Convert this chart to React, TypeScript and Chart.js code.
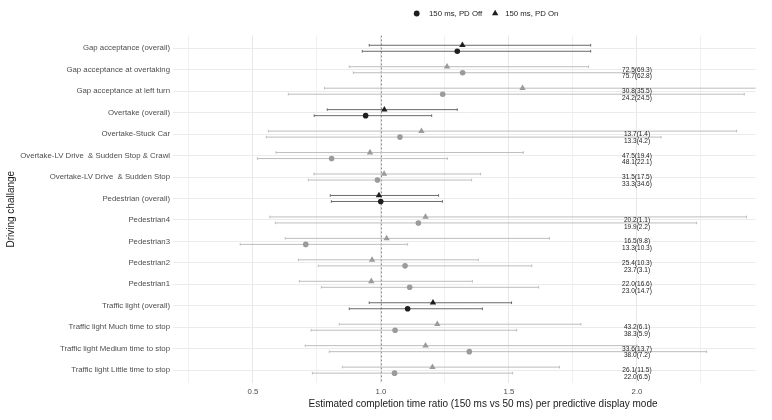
import React, { useEffect, useRef } from 'react';
import { Chart, registerables } from 'chart.js';
Chart.register(...registerables);

const categories = [
  'Gap acceptance (overall)',
  'Gap acceptance at overtaking',
  'Gap acceptance at left turn',
  'Overtake (overall)',
  'Overtake-Stuck Car',
  'Overtake-LV Drive  & Sudden Stop & Crawl',
  'Overtake-LV Drive  & Sudden Stop',
  'Pedestrian (overall)',
  'Pedestrian4',
  'Pedestrian3',
  'Pedestrian2',
  'Pedestrian1',
  'Traffic light (overall)',
  'Traffic light Much time to stop',
  'Traffic light Medium time to stop',
  'Traffic light Little time to stop',
];

// 150 ms, PD Off (circles)
const pdOffEst = [1.298, 1.319, 1.241, 0.940, 1.074, 0.807, 0.986, 0.999, 1.146, 0.706, 1.094, 1.112, 1.104, 1.055, 1.345, 1.053];
const pdOffLo = [0.927, 0.892, 0.638, 0.739, 0.552, 0.517, 0.716, 0.806, 0.587, 0.450, 0.755, 0.767, 0.876, 0.727, 0.798, 0.732];
const pdOffHi = [1.819, 1.99, 2.419, 1.198, 2.094, 1.259, 1.354, 1.240, 2.233, 1.104, 1.589, 1.616, 1.396, 1.530, 2.272, 1.514];

// 150 ms, PD On (triangles)
const pdOnEst = [1.318, 1.258, 1.553, 1.013, 1.158, 0.957, 1.012, 0.992, 1.174, 1.022, 0.965, 0.962, 1.203, 1.220, 1.174, 1.201];
const pdOnLo = [0.954, 0.876, 0.779, 0.790, 0.560, 0.590, 0.738, 0.802, 0.566, 0.626, 0.677, 0.681, 0.954, 0.837, 0.704, 0.849];
const pdOnHi = [1.819, 1.811, 2.55, 1.298, 2.389, 1.556, 1.389, 1.225, 2.428, 1.658, 1.380, 1.357, 1.510, 1.781, 2.00, 1.697];

// text annotations (first line / second line)
const annoTop = ['', '72.5(69.3)', '30.8(35.5)', '', '13.7(1.4)', '47.5(19.4)', '31.5(17.5)', '', '20.2(1.1)', '16.5(9.8)', '25.4(10.3)', '22.0(16.6)', '', '43.2(6.1)', '33.6(13.7)', '26.1(11.5)'];
const annoBottom = ['', '75.7(62.8)', '24.2(24.5)', '', '13.3(4.2)', '48.1(22.1)', '33.3(34.6)', '', '19.9(2.2)', '13.3(10.3)', '23.7(3.1)', '23.0(14.7)', '', '38.3(5.9)', '38.0(7.2)', '22.0(6.5)'];
const annoX = 2.0;

const xTickValues = [0.25, 0.5, 0.75, 1.0, 1.25, 1.5, 1.75, 2.0, 2.25];
const xTickLabels = ['', '0.5', '', '1.0', '', '1.5', '', '2.0', ''];
const xMin = 0.1875;
const xMax = 2.4637;
const referenceValue = 1.0;

const seriesNames = ['150 ms, PD Off', '150 ms, PD On'];
const xTitle = 'Estimated completion time ratio (150 ms vs 50 ms) per predictive display mode';
const yTitle = 'Driving challange';

const FONT = "'Liberation Sans', Arial, sans-serif";
const isOverall = categories.map((c) => c.includes('(overall)'));
const DODGE = 0.14;

const POINT_DARK = '#1e1e1e';
const POINT_LIGHT = '#9b9b9b';
const BAR_DARK = '#6a6a6a';
const BAR_LIGHT = '#bdbdbd';

const forestPlugin = {
  id: 'forestExtras',
  beforeDatasetsDraw(chart: any) {
    const { ctx, chartArea, scales } = chart;
    const xs = scales.x;
    const ys = scales.y;
    ctx.save();
    ctx.beginPath();
    ctx.rect(chartArea.left, chartArea.top, chartArea.right - chartArea.left, chartArea.bottom - chartArea.top);
    ctx.clip();
    // reference line
    const rx = Math.round(xs.getPixelForValue(referenceValue)) + 0.5;
    ctx.strokeStyle = '#8c8c8c';
    ctx.lineWidth = 1;
    ctx.setLineDash([2, 2]);
    ctx.beginPath();
    ctx.moveTo(rx, chartArea.top);
    ctx.lineTo(rx, chartArea.bottom);
    ctx.stroke();
    ctx.setLineDash([]);
    const drawBar = (lo: number, hi: number, yv: number, color: string) => {
      const x1 = xs.getPixelForValue(lo);
      const x2 = xs.getPixelForValue(hi);
      const yp = ys.getPixelForValue(yv);
      ctx.strokeStyle = color;
      ctx.lineWidth = 1;
      ctx.beginPath();
      ctx.moveTo(x1, yp);
      ctx.lineTo(x2, yp);
      ctx.moveTo(x1, yp - 1.3);
      ctx.lineTo(x1, yp + 1.3);
      ctx.moveTo(x2, yp - 1.3);
      ctx.lineTo(x2, yp + 1.3);
      ctx.stroke();
    };
    categories.forEach((_, i) => {
      const col = isOverall[i] ? BAR_DARK : BAR_LIGHT;
      drawBar(pdOnLo[i], pdOnHi[i], i - DODGE, col);
      drawBar(pdOffLo[i], pdOffHi[i], i + DODGE, col);
    });
    ctx.restore();
  },
  afterDraw(chart: any) {
    const { ctx, chartArea, scales } = chart;
    const xs = scales.x;
    const ys = scales.y;
    ctx.save();
    // annotations
    ctx.fillStyle = '#222222';
    ctx.font = `7.6px ${FONT}`;
    ctx.textAlign = 'center';
    ctx.textBaseline = 'middle';
    const ax = xs.getPixelForValue(annoX);
    categories.forEach((_, i) => {
      const yp = ys.getPixelForValue(i);
      [annoTop[i], annoBottom[i]].forEach((t, k) => {
        if (!t) return;
        ctx.save();
        ctx.translate(ax, yp + k * 6.6);
        ctx.scale(0.86, 1);
        ctx.fillText(t, 0, 0);
        ctx.restore();
      });
    });
    // x title
    ctx.fillStyle = '#1a1a1a';
    ctx.font = `10px ${FONT}`;
    ctx.textAlign = 'center';
    ctx.textBaseline = 'middle';
    ctx.fillText(xTitle, 483, 404);
    // legend
    ctx.font = `7.8px ${FONT}`;
    ctx.textAlign = 'left';
    const ly = 13.5;
    let cx = 416.7;
    ctx.fillStyle = POINT_DARK;
    ctx.beginPath();
    ctx.arc(cx, ly, 2.9, 0, Math.PI * 2);
    ctx.fill();
    let tx = cx + 12.3;
    ctx.fillStyle = '#222222';
    ctx.fillText(seriesNames[0], tx, ly);
    cx = tx + ctx.measureText(seriesNames[0]).width + 13;
    ctx.fillStyle = POINT_DARK;
    const r = 3.7;
    ctx.beginPath();
    ctx.moveTo(cx, ly - r);
    ctx.lineTo(cx + r * 0.866, ly + r / 2);
    ctx.lineTo(cx - r * 0.866, ly + r / 2);
    ctx.closePath();
    ctx.fill();
    tx = cx + 10;
    ctx.fillStyle = '#222222';
    ctx.fillText(seriesNames[1], tx, ly);
    ctx.restore();
  },
};

export default function App() {
  const ref = useRef<HTMLCanvasElement | null>(null);
  useEffect(() => {
    if (!ref.current) return;
    const pointColors = isOverall.map((o) => (o ? POINT_DARK : POINT_LIGHT));
    const chart = new Chart(ref.current, {
      type: 'scatter',
      data: {
        datasets: [
          {
            label: seriesNames[0],
            data: pdOffEst.map((v, i) => ({ x: v, y: i + DODGE })),
            pointStyle: 'circle',
            pointRadius: 2.8,
            backgroundColor: pointColors,
            borderColor: pointColors,
            borderWidth: 0,
          },
          {
            label: seriesNames[1],
            data: pdOnEst.map((v, i) => ({ x: v, y: i - DODGE })),
            pointStyle: 'triangle',
            pointRadius: 3.7,
            backgroundColor: pointColors,
            borderColor: pointColors,
            borderWidth: 0,
          },
        ],
      },
      options: {
        responsive: false,
        animation: false,
        devicePixelRatio: 1,
        layout: { padding: { top: 35.4, right: 16.3, bottom: 0, left: 0 } },
        plugins: { legend: { display: false }, tooltip: { enabled: false } },
        scales: {
          x: {
            type: 'linear',
            min: xMin,
            max: xMax,
            afterBuildTicks: (s: any) => {
              s.ticks = xTickValues.map((v) => ({ value: v }));
            },
            afterFit: (s: any) => {
              s.height = 37;
            },
            ticks: {
              autoSkip: false,
              maxRotation: 0,
              padding: 4,
              color: '#4d4d4d',
              font: { size: 7.8, family: FONT },
              callback: (v: any) => {
                const k = xTickValues.indexOf(Number(v));
                return k >= 0 ? xTickLabels[k] : '';
              },
            },
            grid: {
              drawTicks: false,
              color: (c: any) => (c.tick && c.tick.value % 0.5 === 0 ? '#e8e8e8' : '#f1f1f1'),
              lineWidth: 1,
            },
            border: { display: false },
          },
          y: {
            type: 'linear',
            reverse: true,
            min: -0.6,
            max: categories.length - 0.4,
            afterBuildTicks: (s: any) => {
              s.ticks = categories.map((_, i) => ({ value: i }));
            },
            afterFit: (s: any) => {
              s.width = 173;
            },
            ticks: {
              autoSkip: false,
              padding: 3,
              color: '#4d4d4d',
              font: { size: 7.8, family: FONT },
              callback: (v: any) => categories[Number(v)] ?? '',
            },
            grid: { drawTicks: false, color: '#ebebeb', lineWidth: 1 },
            border: { display: false },
            title: {
              display: true,
              text: yTitle,
              color: '#1a1a1a',
              font: { size: 10, family: FONT },
              padding: { top: 5.7, bottom: 0 },
            },
          },
        },
      },
      plugins: [forestPlugin],
    } as any);
    return () => chart.destroy();
  }, []);
  return (
    <div style={{ position: 'fixed', left: 0, top: 0, width: 772, height: 420, background: '#ffffff' }}>
      <canvas ref={ref} width={772} height={420} style={{ display: 'block', width: 772, height: 420 }} />
    </div>
  );
}
